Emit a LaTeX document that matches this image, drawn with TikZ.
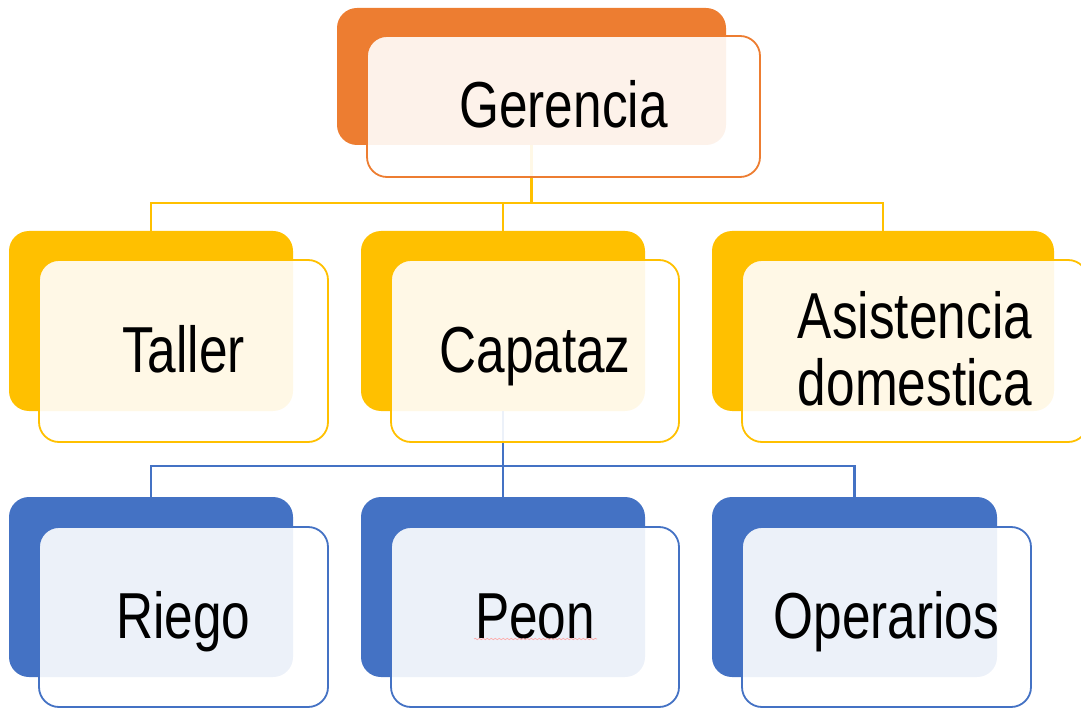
\documentclass[tikz,border=0pt]{standalone}
\usepackage{fontspec}
\setmainfont{Liberation Sans}[FakeStretch=0.79]
\usetikzlibrary{decorations.pathmorphing}
\definecolor{cOr}{HTML}{ED7D31}
\definecolor{cYe}{HTML}{FFC000}
\definecolor{cBl}{HTML}{4472C4}
\begin{document}
\begin{tikzpicture}[x=1pt,y=-1pt,
  back/.style={rectangle, rounded corners=20pt, inner sep=0pt, outer sep=0pt, fill=#1, draw=none},
  front/.style={rectangle, rounded corners=20pt, inner sep=0pt, outer sep=0pt, draw=#1, line width=1.8pt,
    fill=white, fill opacity=0.9, text opacity=1, text=black,
    font=\fontsize{65}{67}\selectfont, text height=45pt, text depth=2pt},
  conn/.style={draw=#1, line width=2.2pt},
]
\useasboundingbox (0,0) rectangle (1081,708);
% back boxes
\node[back=cOr, minimum width=389pt, minimum height=137pt] (bG) at (531.5,76.5) {};
\node[back=cYe, minimum width=284pt, minimum height=180pt] (bT) at (151,321) {};
\node[back=cYe, minimum width=284pt, minimum height=180pt] (bC) at (503,321) {};
\node[back=cYe, minimum width=342pt, minimum height=180pt] (bA) at (883,321) {};
\node[back=cBl, minimum width=284pt, minimum height=180pt] (bR) at (151,587) {};
\node[back=cBl, minimum width=284pt, minimum height=180pt] (bP) at (503,587) {};
\node[back=cBl, minimum width=285pt, minimum height=180pt] (bO) at (854.5,587) {};
% connectors
\coordinate (busG) at (531.5,203);
\coordinate (busC) at (503,466);
\draw[conn=cYe] (bG.south) -- (busG) -| (bT.north);
\draw[conn=cYe] (busG) -| (bC.north);
\draw[conn=cYe] (busG) -| (bA.north);
\draw[conn=cBl] (bC.south) -- (busC) -| (bR.north);
\draw[conn=cBl] (busC) -| (bP.north);
\draw[conn=cBl] (busC) -| (bO.north);
% front boxes
\node[front=cOr, minimum width=393pt, minimum height=141pt] (G) at (563.5,106.5) {Gerencia};
\node[front=cYe, minimum width=289pt, minimum height=182pt] (T) at (183.5,351) {Taller};
\node[front=cYe, minimum width=288pt, minimum height=182pt] (C) at (535,351) {Capataz};
\node[front=cYe, minimum width=346pt, minimum height=182pt, align=center, text height=112pt, text depth=4pt] (A) at (915,351) {Asistencia\\domestica};
\node[front=cBl, minimum width=289pt, minimum height=180pt] (R) at (183.5,617) {Riego};
\node[front=cBl, minimum width=288pt, minimum height=180pt] (P) at (535,617) {Peon};
\node[front=cBl, minimum width=289pt, minimum height=180pt] (O) at (886.5,617) {Operarios};
% spell-check underline under Peon
\draw[red!35, line width=0.6pt, decorate, decoration={snake, amplitude=0.7pt, segment length=4pt}] (474,639) -- (597,639);
\end{tikzpicture}
\end{document}
